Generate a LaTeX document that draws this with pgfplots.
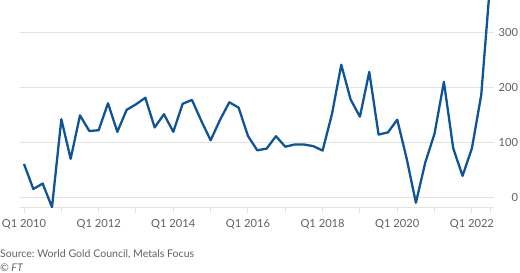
\documentclass[border=0pt]{standalone}
\usepackage{pgfplots}
\pgfplotsset{compat=1.18}
\usepackage{fontspec}
\setmainfont{Lato}
\frenchspacing
\definecolor{ftblue}{HTML}{0F5499}
\definecolor{fttext}{HTML}{66605C}
\definecolor{ftgrid}{HTML}{E6E2DE}
\begin{document}
\begin{tikzpicture}[x=1bp,y=1bp]
\useasboundingbox (0,0) rectangle (520,272);
\begin{axis}[
  at={(20bp,64.7bp)}, anchor=south west,
  scale only axis, width=474bp, height=207.3bp,
  xmin=-0.43, xmax=50.37, ymin=-18.2, ymax=358.7,
  axis x line*=bottom, axis y line*=right,
  x axis line style={ftgrid, line width=1pt},
  y axis line style={draw=none},
  xtick={0,4,8,12,16,20,24,28,32,36,40,44,48,50},
  xticklabels={Q1 2010,,Q1 2012,,Q1 2014,,Q1 2016,,Q1 2018,,Q1 2020,,Q1 2022,},
  xtick style={ftgrid, line width=1pt},
  tick align=outside, major tick length=5.5bp,
  xticklabel style={font=\fontsize{11.2}{12}\selectfont, text=fttext, yshift=-3.5bp},
  ytick={0,100,200,300},
  ytick style={draw=none},
  yticklabel style={font=\fontsize{11.2}{12}\selectfont, text=fttext, anchor=east, xshift=22bp},
  /pgf/number format/assume math mode=true,
  ymajorgrids, major grid style={ftgrid, line width=1pt},
  clip=true,
]
\addplot[ftblue, line width=2.3pt, line join=round] coordinates {
(0,60.5)(1,15)(2,25)(3,-18)(4,142)(5,70)(6,149)(7,120.5)(8,122)(9,171)
(10,119)(11,159)(12,169)(13,181)(14,127)(15,151)(16,119)(17,170)(18,177)(19,139)
(20,103.6)(21,140.5)(22,172.7)(23,163)(24,111.5)(25,85.4)(26,88.5)(27,111)(28,92)(29,96)
(30,96)(31,93)(32,85)(33,151)(34,241)(35,178)(36,146.5)(37,228)(38,114)(39,118)
(40,141)(41,71)(42,-10)(43,63)(44,116)(45,210)(46,89)(47,39)(48,89)(49,186)
(50,399)
};
\end{axis}
\node[anchor=west, text=fttext, font=\fontsize{10.6}{12}\selectfont, inner sep=0] at (0,17.5) {Source: World Gold Council, Metals Focus};
\node[anchor=west, text=fttext, font=\fontsize{10.6}{12}\selectfont\itshape, inner sep=0] at (0,4.5) {© FT};
\end{tikzpicture}
\end{document}
